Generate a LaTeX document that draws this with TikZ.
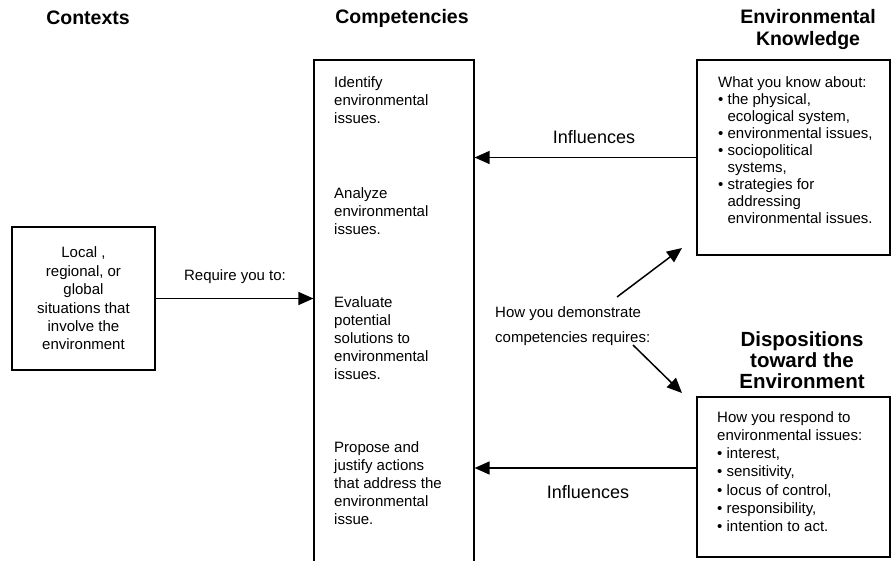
\documentclass[tikz,border=0pt]{standalone}
\usepackage{fontspec}
\setmainfont{Liberation Sans}
\usepackage{tikz}
\usetikzlibrary{arrows.meta}

\begin{document}
\begin{tikzpicture}[x=1pt, y=-1pt,
    box/.style={draw, line width=1.2pt, inner sep=0pt},
    title/.style={font=\fontsize{19.5}{22}\selectfont\bfseries, align=center},
    body/.style={font=\fontsize{15}{18}\selectfont, align=left, anchor=north west, inner sep=0pt},
    lbl/.style={font=\fontsize{15}{18}\selectfont, inner sep=0pt},
    arr/.style={line width=1.5pt, -{Triangle[length=15pt,width=13pt]}}]
  \useasboundingbox (0,0) rectangle (892,560);
  \clip (0,0) rectangle (892,560);

  \node[title] (ctxTitle) at (88,18) {Contexts};
  \node[title] (compTitle) at (402,18) {Competencies};
  \node[title] (ekTitle) at (808,29) {Environmental\\Knowledge};
  \node[title, font=\fontsize{20.5}{21}\selectfont\bfseries] (deTitle) at (802,360) {Dispositions\\toward the\\Environment};

  \node[box, minimum width=143pt, minimum height=143pt, align=center,
        font=\fontsize{15}{18.4}\selectfont] (ctx) at (83.5,298.5)
    {Local ,\\regional, or\\global\\situations that\\involve the\\environment};
  \node[box, minimum width=160pt, minimum height=520pt] (comp) at (394,320) {};
  \node[box, minimum width=193pt, minimum height=195pt] (ek) at (793.5,157.5) {};
  \node[box, minimum width=193pt, minimum height=160pt] (de) at (793.5,477) {};

  \foreach \n/\y/\txt in {1/76/Identify\\environmental\\issues.,
                          2/187/Analyze\\environmental\\issues.,
                          3/296/Evaluate\\potential\\solutions to\\environmental\\issues.,
                          4/441/Propose and\\justify actions\\that address the\\environmental\\issue.}
    \node[body] (comp\n) at (334,\y) {\txt};

  \node[body, font=\fontsize{15}{17}\selectfont] (ekText) at (718,76)
    {What you know about:\\
     \textbullet\ the physical,\\
     \hphantom{\textbullet\ }ecological system,\\
     \textbullet\ environmental issues,\\
     \textbullet\ sociopolitical\\
     \hphantom{\textbullet\ }systems,\\
     \textbullet\ strategies for\\
     \hphantom{\textbullet\ }addressing\\
     \hphantom{\textbullet\ }environmental issues.};
  \node[body, font=\fontsize{15}{18.3}\selectfont] (deText) at (717,411)
    {How you respond to\\
     environmental issues:\\
     \textbullet\ interest,\\
     \textbullet\ sensitivity,\\
     \textbullet\ locus of control,\\
     \textbullet\ responsibility,\\
     \textbullet\ intention to act.};

  \node[lbl] (req) at (235,277) {Require you to:};
  \node[lbl, font=\fontsize{18}{20}\selectfont] (inflTop) at (594,137) {Influences};
  \node[lbl, font=\fontsize{18}{20}\selectfont] (inflBot) at (588,492) {Influences};
  \node[body, font=\fontsize{15}{25}\selectfont] (demo) at (495,306)
    {How you demonstrate\\competencies requires:};

  \coordinate (upTail) at (617,297);
  \coordinate (upHead) at (682,248);
  \coordinate (dnTail) at (633,345);
  \coordinate (dnHead) at (682,393);

  \draw[arr] (ctx.east) -- (ctx.east -| comp.west);
  \draw[arr] (ek.west) -- (ek.west -| comp.east);
  \draw[arr] ([yshift=9pt]de.west) -- ([yshift=9pt]de.west -| comp.east);
  \draw[arr] (upTail) -- (upHead);
  \draw[arr] (dnTail) -- (dnHead);
\end{tikzpicture}
\end{document}
